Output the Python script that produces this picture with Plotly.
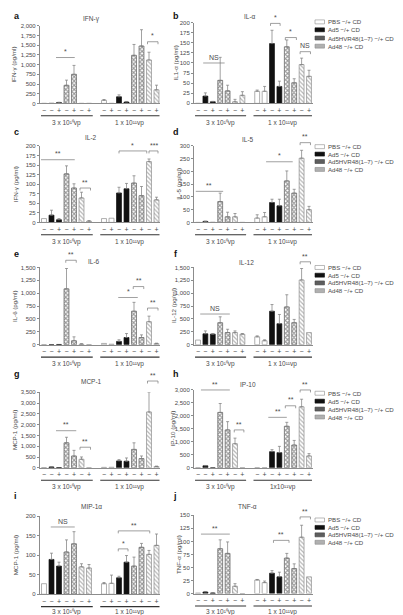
import plotly.graph_objects as go

W, H = 403, 615
FONT = 'Liberation Sans, Arial, sans-serif'
TXT = '#4a4a4a'
AXC = '#8c8c8c'

# ---------------- categories / tick labels ----------------
X_POS = [0, 1, 2, 3, 4, 5, 6, 8, 9, 10, 11, 12, 13, 14, 15]
TREAT = ['PBS', 'Ad5', 'Ad5', 'HVR', 'HVR', 'Ad48', 'Ad48',
         'PBS', 'PBS', 'Ad5', 'Ad5', 'HVR', 'HVR', 'Ad48', 'Ad48']
CD_LABELS = ['−', '−', '+', '−', '+', '−', '+',
             '−', '+', '−', '+', '−', '+', '−', '+']
GROUP_LABELS = ['3 x 10¹⁰vp', '1 x 10¹¹vp']
GROUP_LABELS_H = ['3 x 10¹⁰vp', '1x10¹¹vp']
LEGEND_NAMES = ['PBS −/+ CD', 'Ad5 −/+ CD', 'Ad5HVR48(1–7) −/+ CD', 'Ad48 −/+ CD']

# ---------------- series values (mean, top of error bar) ----------------
ifng_vals = [0, 0, 20, 467, 750, 0, 0, 80, 0, 170, 35, 1240, 1480, 1120, 350]
ifng_tops = [0, 0, 30, 600, 980, 0, 0, 100, 0, 220, 50, 1520, 1900, 1320, 470]

il1a_vals = [0, 18, 4, 57, 31, 4, 20, 30, 30, 148, 42, 140, 51, 96, 67]
il1a_tops = [0, 26, 5, 114, 45, 10, 29, 33, 42, 181, 55, 157, 61, 112, 82]

il2_vals = [10, 19, 7, 127, 90, 64, 3, 10, 11, 77, 88, 103, 70, 159, 59]
il2_tops = [10, 32, 10, 148, 101, 79, 5, 10, 11, 92, 102, 122, 94, 166, 66]

il5_vals = [0, 4, 0, 82, 22, 22, 0, 17, 22, 78, 65, 163, 115, 252, 50]
il5_tops = [0, 5, 0, 115, 40, 35, 0, 30, 39, 91, 91, 202, 130, 283, 63]

il6_vals = [0, 0, 5, 1085, 77, 10, 0, 25, 10, 64, 140, 651, 140, 447, 20]
il6_tops = [0, 0, 5, 1480, 153, 20, 0, 25, 10, 96, 217, 823, 191, 555, 30]

il12_vals = [90, 211, 205, 428, 236, 236, 204, 153, 77, 650, 408, 734, 428, 1257, 236]
il12_tops = [90, 268, 215, 542, 300, 268, 217, 172, 96, 780, 587, 970, 491, 1480, 236]

mcp1_vals = [10, 40, 10, 1157, 548, 396, 0, 20, 25, 320, 304, 852, 426, 2587, 60]
mcp1_tops = [10, 50, 10, 1415, 807, 502, 0, 20, 25, 380, 456, 1157, 548, 3500, 80]

ip10_vals = [0, 76, 0, 2135, 1461, 928, 0, 0, 0, 623, 585, 1601, 877, 2351, 457]
ip10_tops = [0, 90, 0, 2478, 1779, 1144, 0, 0, 0, 699, 826, 1753, 1055, 2643, 546]

mip1a_vals = [27, 89, 72, 108, 129, 70, 67, 27, 28, 42, 82, 72, 120, 102, 125]
mip1a_tops = [27, 105, 82, 139, 160, 78, 76, 30, 49, 46, 99, 95, 130, 112, 154]

tnfa_vals = [1, 3, 1, 86, 77, 14, 0, 26, 21, 39, 32, 68, 48, 108, 32]
tnfa_tops = [1, 4, 2, 103, 99, 19, 0, 27, 24, 44, 41, 77, 57, 131, 32]

# significance marks: (from, to, level, text, bracket)
ifng_sig = [(1.6, 4.1, 1183, '*', False), (13.8, 15.2, 1590, '*', True)]
il1a_sig = [(0.7, 3.6, 100, 'NS', False), (9.8, 11.1, 198, '*', True),
            (11.8, 13.3, 163, '*', True), (13.8, 15.2, 128, 'NS', True)]
il2_sig = [(-0.4, 4.1, 164, '**', False), (4.8, 6.2, 90, '**', True),
           (10.0, 13.7, 187, '*', True), (14.0, 15.2, 187, '***', True)]
il5_sig = [(-0.3, 3.4, 122, '**', False), (9.2, 12.8, 238, '*', False),
           (13.8, 15.2, 313, '**', True)]
il6_sig = [(2.9, 4.3, 1640, '**', True), (9.9, 12.5, 917, '*', False),
           (11.9, 13.3, 1129, '**', True), (13.8, 15.2, 712, '**', True)]
il12_sig = [(0.3, 4.3, 596, 'NS', False), (13.8, 15.2, 1610, '**', True)]
mcp1_sig = [(1.6, 4.3, 1718, '**', False), (4.8, 6.2, 953, '**', True),
            (13.8, 15.2, 4020, '**', True)]
ip10_sig = [(0.4, 4.3, 3000, '**', False), (4.9, 6.2, 1460, '**', True),
            (9.5, 12.0, 1945, '**', False), (11.8, 13.2, 2390, '**', True),
            (13.8, 15.2, 3000, '**', True)]
mip1a_sig = [(0.9, 4.1, 172, 'NS', False), (9.9, 11.2, 116, '*', True),
             (9.9, 14.1, 162, '**', True)]
tnfa_sig = [(0.4, 4.3, 114, '**', False), (10.2, 12.3, 102, '**', True),
            (13.8, 15.2, 147, '**', True)]

# ---------------- layout geometry (pixels) ----------------
COL_X = {0: (32.25, 152.25), 1: (186.3, 304.7)}
XR = (-0.5, 15.5)

PANELS = [
    dict(letter='a', title='IFN-γ', ytitle='IFN-γ (pg/ml)', ymax=2000, dtick=250,
         vals=ifng_vals, tops=ifng_tops, sig=ifng_sig, col=0, ys=(15, 93.3),
         tpos=(83, 8), ytx=6, lpos=(4, 5)),
    dict(letter='b', title='IL-α', ytitle='IL1-α (pg/ml)', ymax=200, dtick=25,
         vals=il1a_vals, tops=il1a_tops, sig=il1a_sig, col=1, ys=(11.7, 93.3),
         tpos=(242, 6), ytx=167.5, lpos=(163, 5), leg=[11, 19, 27.3, 35.5]),
    dict(letter='c', title='IL-2', ytitle='IFN-γ (pg/ml)', ymax=200, dtick=25,
         vals=il2_vals, tops=il2_tops, sig=il2_sig, col=0, ys=(136.3, 213.5),
         tpos=(83, 128), ytx=7, lpos=(4, 122)),
    dict(letter='d', title='IL-5', ytitle='IL-5 (pg/ml)', ymax=300, dtick=50,
         vals=il5_vals, tops=il5_tops, sig=il5_sig, col=1, ys=(136.3, 213.5),
         tpos=(240, 130), ytx=170.5, lpos=(163, 122), leg=[137, 144.5, 152, 160]),
    dict(letter='e', title='IL-6', ytitle='IL-6 (pg/ml)', ymax=1500, dtick=250,
         vals=il6_vals, tops=il6_tops, sig=il6_sig, col=0, ys=(259, 337),
         tpos=(86, 253), ytx=6, lpos=(4, 245)),
    dict(letter='f', title='IL-12', ytitle='IL-12 (pg/ml)', ymax=1500, dtick=250,
         vals=il12_vals, tops=il12_tops, sig=il12_sig, col=1, ys=(259, 337),
         tpos=(238, 254), ytx=165, lpos=(164, 245), leg=[259, 266.8, 274.6, 282.4]),
    dict(letter='g', title='MCP-1', ytitle='MCP-1 (pg/ml)', ymax=3500, dtick=500,
         vals=mcp1_vals, tops=mcp1_tops, sig=mcp1_sig, col=0, ys=(385, 461.3),
         tpos=(83, 374), ytx=6, lpos=(4, 367)),
    dict(letter='h', title='IP-10', ytitle='IP-10 (pg/ml)', ymax=3000, dtick=500,
         vals=ip10_vals, tops=ip10_tops, sig=ip10_sig, col=1, ys=(382.7, 461.3),
         tpos=(240, 377), ytx=164.5, lpos=(163, 367), leg=[386, 394, 402, 410],
         glabels=GROUP_LABELS_H),
    dict(letter='i', title='MIP-1α', ytitle='MCP-1 (pg/ml)', ymax=200, dtick=50,
         vals=mip1a_vals, tops=mip1a_tops, sig=mip1a_sig, col=0, ys=(510, 589),
         tpos=(83, 500), ytx=7, lpos=(4, 490)),
    dict(letter='j', title='TNF-α', ytitle='TNF-α (pg/ml)', ymax=150, dtick=25,
         vals=tnfa_vals, tops=tnfa_tops, sig=tnfa_sig, col=1, ys=(509.3, 588.3),
         tpos=(240, 500), ytx=170.5, lpos=(163, 490), leg=[514, 521.5, 529, 536.5]),
]

STYLE = {
    'PBS': dict(color='white', line=dict(color='#8c8c8c', width=0.7)),
    'Ad5': dict(color='#111111', line=dict(color='#111111', width=0.7)),
    'HVR': dict(color='white', line=dict(color='#5e5e5e', width=0.7),
                pattern=dict(shape='x', fgcolor='#333333', size=3, solidity=0.6)),
    'Ad48': dict(color='white', line=dict(color='#8c8c8c', width=0.7),
                 pattern=dict(shape='\\', fgcolor='#6e6e6e', size=3, solidity=0.4)),
}
SWATCH = {'PBS': ('white', '#8c8c8c'), 'Ad5': ('#111111', '#111111'),
          'HVR': ('#5e5e5e', '#444444'), 'Ad48': ('#b0b0b0', '#8c8c8c')}


def px_x(col, xv):
    x0, x1 = COL_X[col]
    return (x0 + (xv - XR[0]) / (XR[1] - XR[0]) * (x1 - x0)) / W


def py(p):
    return 1 - p / H


def val_px(panel, v):
    yt, yb = panel['ys']
    return yb - v / panel['ymax'] * (yb - yt)


fig = go.Figure()
shapes, annos = [], []
layout = {}

for k, p in enumerate(PANELS):
    n = '' if k == 0 else str(k + 1)
    xa, ya = 'x' + n, 'y' + n
    col = p['col']
    for grp in ['PBS', 'Ad5', 'HVR', 'Ad48']:
        idx = [i for i, t in enumerate(TREAT) if t == grp]
        with_err = [i for i in idx if p['tops'][i] - p['vals'][i] > 0]
        no_err = [i for i in idx if i not in with_err]
        for sub, has_err in ((with_err, True), (no_err, False)):
            if not sub:
                continue
            kw = {}
            if has_err:
                kw['error_y'] = dict(type='data', symmetric=False,
                                     array=[p['tops'][i] - p['vals'][i] for i in sub],
                                     arrayminus=[0] * len(sub), color='#7a7a7a',
                                     thickness=0.7, width=1.5)
            fig.add_trace(go.Bar(x=[X_POS[i] for i in sub], y=[p['vals'][i] for i in sub],
                                 width=0.66, marker=STYLE[grp], xaxis=xa, yaxis=ya,
                                 showlegend=False, cliponaxis=False, **kw))

    yt, yb = p['ys']
    x0, x1 = COL_X[col]
    layout['xaxis' + n] = dict(domain=[x0 / W, x1 / W], range=list(XR), anchor=ya,
                               tickmode='array', tickvals=X_POS, ticktext=CD_LABELS,
                               ticks='', showline=True, linecolor=AXC, linewidth=0.7,
                               showgrid=False, zeroline=False, fixedrange=True,
                               tickfont=dict(size=7, color=TXT, family=FONT))
    layout['yaxis' + n] = dict(domain=[1 - yb / H, 1 - yt / H], range=[0, p['ymax']],
                               anchor=xa, tick0=0, dtick=p['dtick'], ticks='outside',
                               ticklen=2.5, tickwidth=0.6, tickcolor=AXC, showline=True,
                               linecolor=AXC, linewidth=0.7, showgrid=False,
                               zeroline=False, tickformat=',d', fixedrange=True,
                               tickfont=dict(size=6, color=TXT, family=FONT))

    # panel letter, title, y title
    annos.append(dict(x=p['lpos'][0] / W, y=py(p['lpos'][1]), xref='paper', yref='paper',
                      text='<b>%s</b>' % p['letter'], showarrow=False, xanchor='left',
                      yanchor='middle', font=dict(size=9, color='#111', family=FONT)))
    annos.append(dict(x=p['tpos'][0] / W, y=py(p['tpos'][1]), xref='paper', yref='paper',
                      text=p['title'], showarrow=False, xanchor='center', yanchor='middle',
                      font=dict(size=6.5, color=TXT, family=FONT)))
    annos.append(dict(x=p['ytx'] / W, y=py((yt + yb) / 2), xref='paper', yref='paper',
                      text=p['ytitle'], textangle=-90, showarrow=False, xanchor='center',
                      yanchor='middle', font=dict(size=6.2, color=TXT, family=FONT)))

    # group underline + labels
    glabels = p.get('glabels', GROUP_LABELS)
    for (g0, g1), lab in zip(((-0.4, 6.5), (7.5, 15.4)), glabels):
        yl = yb + 12.5
        shapes.append(dict(type='line', xref='paper', yref='paper',
                           x0=px_x(col, g0), x1=px_x(col, g1), y0=py(yl), y1=py(yl),
                           line=dict(color='#333', width=1.1)))
        annos.append(dict(x=(px_x(col, g0) + px_x(col, g1)) / 2,
                          y=py(min(yb + 19.5, 607.0)),
                          xref='paper', yref='paper', text=lab, showarrow=False,
                          xanchor='center', yanchor='middle',
                          font=dict(size=6.5, color=TXT, family=FONT)))

    # significance marks
    for s0, s1, lvl, txt, bracket in p['sig']:
        yp = val_px(p, lvl)
        xa0, xa1 = px_x(col, s0), px_x(col, s1)
        shapes.append(dict(type='line', xref='paper', yref='paper', x0=xa0, x1=xa1,
                           y0=py(yp), y1=py(yp), line=dict(color='#777', width=0.7)))
        if bracket:
            for xx in (xa0, xa1):
                shapes.append(dict(type='line', xref='paper', yref='paper', x0=xx, x1=xx,
                                   y0=py(yp), y1=py(yp + 2.5),
                                   line=dict(color='#777', width=0.7)))
        annos.append(dict(x=(xa0 + xa1) / 2, y=py(yp - 0.3), xref='paper', yref='paper',
                          text=txt, showarrow=False, xanchor='center', yanchor='bottom',
                          font=dict(size=7, color=TXT, family=FONT)))

    # legend
    if 'leg' in p:
        for grp, name, ly in zip(['PBS', 'Ad5', 'HVR', 'Ad48'], LEGEND_NAMES, p['leg']):
            fc, lc = SWATCH[grp]
            shapes.append(dict(type='rect', xref='paper', yref='paper',
                               x0=307 / W, x1=316.5 / W, y0=py(ly + 2), y1=py(ly - 2),
                               fillcolor=fc, line=dict(color=lc, width=0.6)))
            annos.append(dict(x=317.5 / W, y=py(ly), xref='paper', yref='paper', text=name,
                              showarrow=False, xanchor='left', yanchor='middle',
                              font=dict(size=6.1, color=TXT, family=FONT)))

fig.update_layout(width=W, height=H, autosize=False,
                  margin=dict(l=0, r=0, t=0, b=0),
                  paper_bgcolor='white', plot_bgcolor='white',
                  barmode='overlay', showlegend=False, separators='.,',
                  font=dict(family=FONT, color=TXT),
                  shapes=shapes, annotations=annos, **layout)

fig.write_html('out.html')
